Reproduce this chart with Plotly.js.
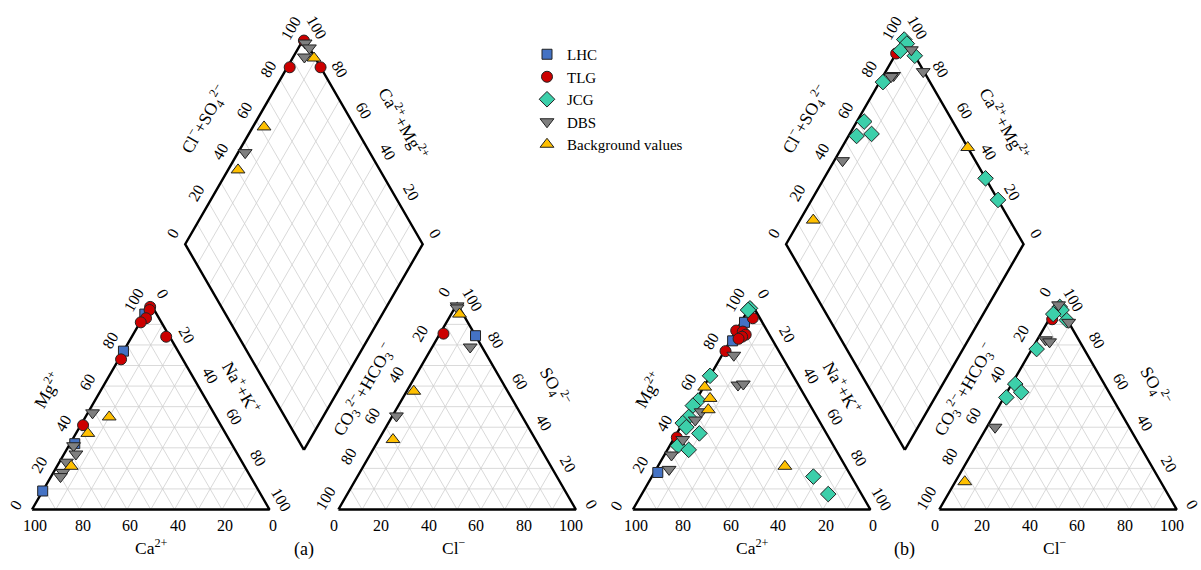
<!DOCTYPE html>
<html><head><meta charset="utf-8">
<script src="https://cdn.plot.ly/plotly-3.0.1.min.js"></script>
<style>html,body{margin:0;padding:0;background:#fff}#chart{width:1201px;height:570px}</style>
</head><body><div id="chart"></div>
<script>
// ================= DATA (%) =================
// Cation triangle: [Mg2+, Na+ + K+]   (Ca2+ = 100 - Mg - (Na+K))
const lhcA_cat = [[95,0],[77,0],[32,2],[9,0]];
const tlgA_cat = [[98.5,0.5],[97,1],[93,1.5],[91,0.3],[84,14.5],[73,1],[41,1]];
const dbsA_cat = [[47,2],[31,2],[27,5],[23,3],[18,4],[16,4]];
const bgA_cat  = [[45,10],[37,5],[21,6]];
// Anion triangle: [SO4 2-, Cl-]
const lhcA_an = [[84.5,15.5]];
const tlgA_an = [[85.5,1.5]];
const dbsA_an = [[99,0.5],[98,1],[79,16],[45.5,1.7]];
const bgA_an  = [[95,3.5],[57.5,3],[34,6]];
// Diamond: [Ca2+ + Mg2+, Cl- + SO4 2-]
const tlgA_dia = [[99.5,99.5],[99,87],[86,100]];
const dbsA_dia = [[98.4,99.4],[95.4,100],[95.3,95.7],[97,47.5]];
const bgA_dia  = [[91,99.5],[95.3,61.7],[95.8,40.3]];

const lhcB_cat = [[91,1.5],[82,1],[18,1.5]];
const tlgB_cat = [[93,4],[87,0],[86.5,3],[85,5],[84,4],[83,3],[77,0.5],[35,1]];
const jcgB_cat = [[97.8,0.4],[97,0],[65,0],[53,1],[50.5,0],[45,1],[42,0],[40,2.5],[37,9.5],[31,3.5],[29,9],[16,68],[7.5,78.5]];
const dbsB_cat = [[75,5],[60.5,14],[61,16],[47.5,5],[43.5,4.5],[34,4],[26.5,3],[19.5,5.5]];
const bgB_cat  = [[59.5,0.5],[54,5.5],[48.5,7.5],[21,53.5]];
const tlgB_an = [[92.5,1.3]];
const jcgB_an = [[98.5,1.5],[97,3],[95,0.5],[92,7.7],[78,2],[61,1.5],[57,6],[54.5,1]];
const dbsB_an = [[99.5,0.5],[91,9],[82.5,3.5],[81.5,5.7],[40,3.5]];
const bgB_an  = [[13.5,4]];
const tlgB_dia = [[100,92.7]];
const jcgB_dia = [[100,99.5],[97.9,99.6],[98.9,95.2],[91.6,100],[98.6,80.2],[96.9,62.7],[96.6,56],[90.8,62.8],[32,100],[21.5,100]];
const dbsB_dia = [[94.5,100],[95.7,86.3],[96.5,85],[84.2,99.7],[96.5,44.1]];
const bgB_dia  = [[47,100],[94.4,17.3]];

const tickVals = [0,20,40,60,80,100];
const panelLabels = ['(a)','(b)'];

// ================= GEOMETRY =================
const H = Math.sqrt(3)/2, GAP = 29, OFFS = [0, 253];
function cat(o, mg, nak){ return [o + nak + mg/2, mg*H]; }
function an(o, so4, cl){ return [o + 100 + GAP + cl + so4/2, so4*H]; }
function dia(o, camg, clso4){ const bx=o+100+GAP/2, by=GAP*H; return [bx + 0.5*(clso4-camg), by + H*(clso4+camg)]; }

function pts(list){ const x=[],y=[]; list.forEach(([f,a])=>{ a.forEach(p=>{const q=f(p[0],p[1]); x.push(q[0]); y.push(q[1]);}); }); return {x,y}; }

// grid + outline
const gx=[], gy=[], ox=[], oy=[];
function seg(arr_x, arr_y, p, q){ arr_x.push(p[0],q[0],null); arr_y.push(p[1],q[1],null); }
OFFS.forEach(o=>{
  for(let k=10;k<100;k+=10){
    seg(gx,gy,cat(o,k,0),cat(o,k,100-k));
    seg(gx,gy,cat(o,0,k),cat(o,100-k,k));
    seg(gx,gy,cat(o,0,100-k),cat(o,100-k,0));
    seg(gx,gy,an(o,k,0),an(o,k,100-k));
    seg(gx,gy,an(o,0,k),an(o,100-k,k));
    seg(gx,gy,an(o,0,100-k),an(o,100-k,0));
    seg(gx,gy,dia(o,k,0),dia(o,k,100));
    seg(gx,gy,dia(o,0,k),dia(o,100,k));
  }
  [[cat(o,0,0),cat(o,0,100),cat(o,100,0),cat(o,0,0)],
   [an(o,0,0),an(o,0,100),an(o,100,0),an(o,0,0)],
   [dia(o,0,0),dia(o,100,0),dia(o,100,100),dia(o,0,100),dia(o,0,0)]].forEach(poly=>{
     poly.forEach(p=>{ox.push(p[0]);oy.push(p[1]);}); ox.push(null); oy.push(null);
  });
});

const A=OFFS[0], B=OFFS[1];
const cA=(m,n)=>cat(A,m,n), cB=(m,n)=>cat(B,m,n), aA=(s,c)=>an(A,s,c), aB=(s,c)=>an(B,s,c), dA=(p,q)=>dia(A,p,q), dB=(p,q)=>dia(B,p,q);

const groups = [
  {name:'LHC', sym:'square', size:10, color:'#4472C4', data:[[cA,lhcA_cat],[aA,lhcA_an],[cB,lhcB_cat]]},
  {name:'TLG', sym:'circle', size:11, color:'#CC0000', data:[[cA,tlgA_cat],[aA,tlgA_an],[dA,tlgA_dia],[cB,tlgB_cat],[aB,tlgB_an],[dB,tlgB_dia]]},
  {name:'JCG', sym:'diamond', size:12, color:'#3CCFAA', data:[[cB,jcgB_cat],[aB,jcgB_an],[dB,jcgB_dia]]},
  {name:'DBS', sym:'triangle-down', size:12, color:'#7F7F7F', data:[[cA,dbsA_cat],[aA,dbsA_an],[dA,dbsA_dia],[cB,dbsB_cat],[aB,dbsB_an],[dB,dbsB_dia]]},
  {name:'Background values', sym:'triangle-up', size:12, color:'#FFC000', data:[[cA,bgA_cat],[aA,bgA_an],[dA,bgA_dia],[cB,bgB_cat],[aB,bgB_an],[dB,bgB_dia]]}
];

const traces = [
  {x:gx,y:gy,mode:'lines',line:{color:'#cfcfcf',width:0.8},hoverinfo:'skip',showlegend:false},
  {x:ox,y:oy,mode:'lines',line:{color:'#000',width:2.4},hoverinfo:'skip',showlegend:false}
];
groups.forEach(g=>{
  const p = pts(g.data);
  traces.push({x:p.x,y:p.y,mode:'markers',name:g.name,
    marker:{symbol:g.sym,size:g.size,color:g.color,line:{color:'#222',width:1}}});
});

// ================= ANNOTATIONS =================
const FONT = {family:'"Liberation Serif","Times New Roman",serif', size:16, color:'#000'};
const TSIZE = 17.5;
const ann = [];
function lab(p, text, dx, dy, ang, size){
  ann.push({x:p[0],y:p[1],xref:'x',yref:'y',text:text,showarrow:false,xshift:dx,yshift:dy,
    textangle:ang||0,font:Object.assign({},FONT,size?{size:size}:{}),xanchor:'center',yanchor:'middle'});
}
OFFS.forEach((o,i)=>{
  tickVals.forEach(v=>{
    lab(cat(o,0,100-v), String(v), 3, -16, 0);
    lab(cat(o,v,0), String(v), -16.5, 4, -60);
    lab(cat(o,100-v,v), String(v), 12, 10.5, 60);
    lab(an(o,0,v), String(v), -4.5, -16, 0);
    lab(an(o,100-v,0), String(v), -13.5, 11.5, -60);
    lab(an(o,v,100-v), String(v), 15.5, 4.7, 60);
    lab(dia(o,100,v), String(v), -12.5, 10.5, -60);
    lab(dia(o,v,100), String(v), 12.5, 10.5, 60);
  });
  const mid=(p,q)=>[(p[0]+q[0])/2,(p[1]+q[1])/2];
  lab(mid(cat(o,0,0),cat(o,100,0)), 'Mg<sup>2+</sup>', -45, 17, -60, TSIZE);
  lab(mid(cat(o,0,100),cat(o,100,0)), 'Na<sup>+</sup>+K<sup>+</sup>', 32, 20, 60, TSIZE);
  lab(mid(cat(o,0,0),cat(o,0,100)), 'Ca<sup>2+</sup>', 1, -37, 0, TSIZE);
  lab(mid(an(o,0,0),an(o,100,0)), 'CO<sub>3</sub><sup>2−</sup>+HCO<sub>3</sub><sup>−</sup>', -34, 17, -60, TSIZE);
  lab(mid(an(o,0,100),an(o,100,0)), 'SO<sub>4</sub><sup>2−</sup>', 38, 20, 60, TSIZE);
  lab(mid(an(o,0,0),an(o,0,100)), 'Cl<sup>−</sup>', -3, -37, 0, TSIZE);
  lab(mid(dia(o,100,0),dia(o,100,100)), 'Cl<sup>−</sup>+SO<sub>4</sub><sup>2−</sup>', -40, 22, -60, TSIZE);
  lab(mid(dia(o,100,100),dia(o,0,100)), 'Ca<sup>2+</sup>+Mg<sup>2+</sup>', 40.5, 18, 60, TSIZE);
  lab(dia(o,0,0), panelLabels[i], 0, -100, 0, 18);
});

const layout = {
  width:1201, height:570, margin:{l:0,r:0,t:0,b:0},
  paper_bgcolor:'#fff', plot_bgcolor:'#fff',
  xaxis:{range:[-32/2.375,(1201-32)/2.375],visible:false,fixedrange:true},
  yaxis:{range:[(509.5-570)/2.375,509.5/2.375],visible:false,fixedrange:true},
  showlegend:true, hovermode:false,
  legend:{x:527/1201,y:1-38/570,xanchor:'left',yanchor:'top',bgcolor:'rgba(0,0,0,0)',
          font:Object.assign({},FONT,{size:15})},
  annotations:ann
};
Plotly.newPlot('chart', traces, layout, {staticPlot:true, displayModeBar:false});
</script></body></html>
